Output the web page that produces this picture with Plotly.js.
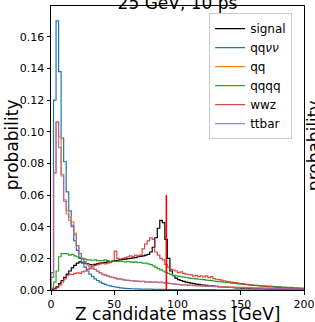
<!DOCTYPE html>
<html>
<head>
<meta charset="utf-8">
<script src="https://cdn.plot.ly/plotly-3.0.1.min.js"></script>
<style>html,body{margin:0;padding:0;background:#fff;}#chart{width:315px;height:322px;}</style>
</head>
<body>
<div id="chart"></div>
<script>
// Histogram binning: 100 bins of 2 GeV from 0 to 200 GeV
const binLow = 0, binHigh = 200, nBins = 100;

const seriesNames = ["signal", "qq<i>νν</i>", "qq", "qqqq", "wwz", "ttbar"];

const signal = [
  0.0002, 0.001, 0.002, 0.004, 0.006, 0.008, 0.010, 0.012, 0.014, 0.0155,
  0.017, 0.0178, 0.0175, 0.017, 0.0165, 0.016, 0.0158, 0.0162, 0.0165, 0.017,
  0.0172, 0.0175, 0.0178, 0.018, 0.0183, 0.0185, 0.0188, 0.019, 0.0193, 0.0195,
  0.0198, 0.020, 0.0203, 0.0205, 0.021, 0.0212, 0.0215, 0.022, 0.0225, 0.024,
  0.027, 0.033, 0.039, 0.044, 0.0425, 0.032, 0.020, 0.012, 0.009, 0.0075,
  0.0065, 0.006, 0.0055, 0.005, 0.0046, 0.0043, 0.004, 0.0037, 0.0035, 0.0033,
  0.0031, 0.0029, 0.0027, 0.0026, 0.0024, 0.0023, 0.0021, 0.0020, 0.0019, 0.0018,
  0.0017, 0.0016, 0.0015, 0.0014, 0.0013, 0.0012, 0.0012, 0.0011, 0.0010, 0.0010,
  0.0009, 0.0009, 0.0008, 0.0008, 0.0007, 0.0007, 0.0006, 0.0006, 0.0006, 0.0005,
  0.0005, 0.0005, 0.0004, 0.0004, 0.0004, 0.0003, 0.0003, 0.0003, 0.0003, 0.0002
];

const qqvv = [
  0.011, 0.120, 0.170, 0.138, 0.096, 0.081, 0.062, 0.050, 0.040, 0.031,
  0.025, 0.020, 0.017, 0.0145, 0.012, 0.010, 0.0085, 0.007, 0.006, 0.005,
  0.0042, 0.0035, 0.0030, 0.0026, 0.0022, 0.0019, 0.0016, 0.0014, 0.0012, 0.0010,
  0.0009, 0.0009, 0.0008, 0.0007, 0.0007, 0.0006, 0.0006, 0.0005, 0.0005, 0.0005,
  0.0004, 0.0004, 0.0004, 0.0004, 0.0004, 0.0003, 0.0003, 0.0003, 0.0003, 0.0003,
  0.0003, 0.0003, 0.0003, 0.0002, 0.0002, 0.0002, 0.0002, 0.0002, 0.0002, 0.0002,
  0.0002, 0.0002, 0.0002, 0.0002, 0.0002, 0.0001, 0.0001, 0.0001, 0.0001, 0.0001,
  0.0001, 0.0001, 0.0001, 0.0001, 0.0001, 0.0001, 0.0001, 0.0001, 0.0001, 0.0001,
  0.0001, 0.0001, 0.0001, 0.0001, 0.0001, 0.0001, 0.0001, 0.0001, 0.0001, 0.0001,
  0.0001, 0.0001, 0.0001, 0.0001, 0.0001, 0.0001, 0.0001, 0.0001, 0.0001, 0.0001
];

const qq = [
  0.008, 0.074, 0.106, 0.097, 0.073, 0.057, 0.050, 0.046, 0.043, 0.036,
  0.028, 0.023, 0.020, 0.018, 0.016, 0.015, 0.014, 0.013, 0.012, 0.011,
  0.010, 0.0095, 0.009, 0.0085, 0.008, 0.0076, 0.0072, 0.0070, 0.0067, 0.0064,
  0.0062, 0.0060, 0.0059, 0.0058, 0.0056, 0.0055, 0.0054, 0.0053, 0.0052, 0.0051,
  0.0050, 0.0049, 0.0049, 0.0048, 0.0047, 0.0045, 0.0043, 0.0041, 0.0039, 0.0037,
  0.0035, 0.0034, 0.0033, 0.0032, 0.0031, 0.0030, 0.0029, 0.0028, 0.0027, 0.0026,
  0.0025, 0.0025, 0.0024, 0.0023, 0.0023, 0.0022, 0.0021, 0.0021, 0.0020, 0.0019,
  0.0019, 0.0018, 0.0018, 0.0017, 0.0017, 0.0016, 0.0016, 0.0015, 0.0015, 0.0014,
  0.0014, 0.0013, 0.0013, 0.0013, 0.0012, 0.0012, 0.0011, 0.0011, 0.0011, 0.0010,
  0.0010, 0.0010, 0.0009, 0.0009, 0.0009, 0.0008, 0.0008, 0.0008, 0.0008, 0.0007
];

const qqqq = [
  0.001, 0.005, 0.012, 0.021, 0.023, 0.023, 0.0228, 0.022, 0.0225, 0.0215,
  0.021, 0.0205, 0.020, 0.0195, 0.019, 0.019, 0.0188, 0.019, 0.0185, 0.0185,
  0.0185, 0.019, 0.0185, 0.018, 0.0185, 0.018, 0.018, 0.0182, 0.018, 0.0178,
  0.018, 0.0178, 0.0175, 0.0178, 0.0172, 0.0175, 0.017, 0.017, 0.0165, 0.016,
  0.0152, 0.0145, 0.0135, 0.0127, 0.012, 0.0112, 0.0105, 0.0098, 0.0093, 0.0090,
  0.0088, 0.0085, 0.0082, 0.0079, 0.0077, 0.0074, 0.0072, 0.0070, 0.0068, 0.0067,
  0.0065, 0.0063, 0.0061, 0.0059, 0.0057, 0.0055, 0.0053, 0.0051, 0.0049, 0.0047,
  0.0046, 0.0044, 0.0042, 0.0040, 0.0039, 0.0037, 0.0036, 0.0034, 0.0033, 0.0031,
  0.0030, 0.0029, 0.0028, 0.0027, 0.0026, 0.0025, 0.0024, 0.0023, 0.0022, 0.0021,
  0.0020, 0.0019, 0.0018, 0.0017, 0.0016, 0.0015, 0.0014, 0.0013, 0.0012, 0.0012
];

const wwz = [
  0.0, 0.0005, 0.0015, 0.003, 0.005, 0.007, 0.009, 0.010, 0.0098, 0.0105,
  0.0108, 0.0105, 0.0115, 0.012, 0.013, 0.0135, 0.015, 0.0155, 0.016, 0.0165,
  0.017, 0.0165, 0.017, 0.0175, 0.018, 0.0245, 0.020, 0.0195, 0.020, 0.0205,
  0.021, 0.0215, 0.021, 0.022, 0.0215, 0.022, 0.026, 0.029, 0.031, 0.033,
  0.032, 0.024, 0.022, 0.020, 0.019, 0.016, 0.0145, 0.013, 0.0125, 0.012,
  0.011, 0.0115, 0.0105, 0.010, 0.0098, 0.0095, 0.0088, 0.0092, 0.0085, 0.009,
  0.0083, 0.0089, 0.0078, 0.0084, 0.0072, 0.0068, 0.0065, 0.0062, 0.0058, 0.0055,
  0.0052, 0.0050, 0.0047, 0.0045, 0.0042, 0.0040, 0.0037, 0.0035, 0.0033, 0.0031,
  0.0029, 0.0027, 0.0026, 0.0024, 0.0023, 0.0021, 0.0020, 0.0019, 0.0018, 0.0017,
  0.0016, 0.0015, 0.0014, 0.0013, 0.0012, 0.0012, 0.0011, 0.0010, 0.0010, 0.0009
];

const ttbar = [
  0.008, 0.074, 0.106, 0.090, 0.072, 0.056, 0.048, 0.044, 0.041, 0.035,
  0.028, 0.023, 0.0195, 0.0175, 0.0158, 0.0145, 0.0135, 0.0128, 0.0118, 0.0108,
  0.0098, 0.0092, 0.0088, 0.0082, 0.0078, 0.0075, 0.0068, 0.0070, 0.0064, 0.0061,
  0.0060, 0.0057, 0.0059, 0.0055, 0.0054, 0.0052, 0.0054, 0.0050, 0.0051, 0.0048,
  0.0049, 0.0052, 0.0047, 0.0050, 0.0046, 0.0044, 0.0042, 0.0040, 0.0037, 0.0036,
  0.0034, 0.0033, 0.0032, 0.0031, 0.0029, 0.0029, 0.0027, 0.0027, 0.0026, 0.0025,
  0.0024, 0.0023, 0.0023, 0.0022, 0.0021, 0.0021, 0.0020, 0.0019, 0.0019, 0.0018,
  0.0017, 0.0017, 0.0016, 0.0016, 0.0015, 0.0015, 0.0014, 0.0014, 0.0013, 0.0013,
  0.0012, 0.0012, 0.0012, 0.0011, 0.0011, 0.0010, 0.0010, 0.0010, 0.0009, 0.0009,
  0.0009, 0.0008, 0.0008, 0.0008, 0.0007, 0.0007, 0.0007, 0.0007, 0.0006, 0.0006
];

// Z boson mass reference line
const zLineX = [91.19, 91.19];
const zLineY = [0, 0.06];

const xTickVals = [0, 50, 100, 150, 200];
const yTickVals = [0, 0.02, 0.04, 0.06, 0.08, 0.10, 0.12, 0.14, 0.16];

const seriesData = [signal, qqvv, qq, qqqq, wwz, ttbar];
const seriesColors = ["#000000", "#1f77b4", "#ff7f0e", "#2ca02c", "rgba(214,39,40,0.85)", "rgba(148,103,189,0.85)"];

const binWidth = (binHigh - binLow) / nBins;
const edges = [];
for (let i = 0; i <= nBins; i++) edges.push(binLow + i * binWidth);

function stepXY(vals) {
  const x = [edges[0]], y = [0];
  for (let i = 0; i < vals.length; i++) { x.push(edges[i]); y.push(vals[i]); }
  x.push(edges[vals.length]); y.push(vals[vals.length - 1]);
  x.push(edges[vals.length]); y.push(0);
  return {x, y};
}

const traces = seriesData.map((vals, k) => {
  const s = stepXY(vals);
  return {
    x: s.x, y: s.y, type: "scatter", mode: "lines",
    name: seriesNames[k],
    line: {color: seriesColors[k], width: 1.2, shape: "hv"},
    hoverinfo: "skip"
  };
});
traces.push({
  x: zLineX, y: zLineY, type: "scatter", mode: "lines",
  line: {color: "#ff0000", width: 1.6}, showlegend: false, hoverinfo: "skip"
});

const layout = {
  width: 315, height: 322,
  margin: {l: 51, r: 11, t: 6, b: 32, pad: 0},
  paper_bgcolor: "#ffffff", plot_bgcolor: "#ffffff",
  font: {family: "DejaVu Sans", color: "#000000", size: 11},
  title: {text: "25 GeV, 10 ps", font: {size: 17, color: "#000"}, x: 0.5, xref: "paper",
          y: 0.972, yref: "container", yanchor: "bottom"},
  xaxis: {
    range: [binLow, binHigh], tickvals: xTickVals, ticktext: xTickVals.map(String),
    ticks: "outside", ticklen: 3.5, tickwidth: 1, tickcolor: "#000",
    showline: true, mirror: true, linecolor: "#000", linewidth: 1,
    showgrid: false, zeroline: false, tickfont: {size: 11}
  },
  yaxis: {
    range: [0, 0.1794], tickvals: yTickVals, ticktext: yTickVals.map(v => v.toFixed(2)),
    ticks: "outside", ticklen: 3.5, tickwidth: 1, tickcolor: "#000",
    showline: true, mirror: true, linecolor: "#000", linewidth: 1,
    showgrid: false, zeroline: false, tickfont: {size: 11}
  },
  legend: {
    x: 0.625, y: 0.975, xanchor: "left", yanchor: "top",
    bgcolor: "rgba(255,255,255,0.8)", bordercolor: "#cccccc", borderwidth: 1,
    font: {size: 12}, tracegroupgap: 0, itemwidth: 30
  },
  annotations: [
    {
      text: "Z candidate mass [GeV]", showarrow: false,
      xref: "paper", yref: "paper", x: 0.5, y: -0.123, xanchor: "center", yanchor: "bottom",
      font: {size: 17, color: "#000"}, borderpad: 0
    },
    {
      text: "probability", textangle: -90, showarrow: false,
      xref: "paper", yref: "paper", x: -0.154, y: 0.51, xanchor: "center", yanchor: "middle",
      font: {size: 17, color: "#000"}, borderpad: 0
    },
    {
      text: "probability", textangle: -90, showarrow: false,
      xref: "paper", yref: "paper", x: 1.0395, y: 0.51, xanchor: "center", yanchor: "middle",
      font: {size: 17, color: "#000"}
    }
  ],
  showlegend: true
};

Plotly.newPlot("chart", traces, layout, {displayModeBar: false, staticPlot: true});
</script>
</body>
</html>
